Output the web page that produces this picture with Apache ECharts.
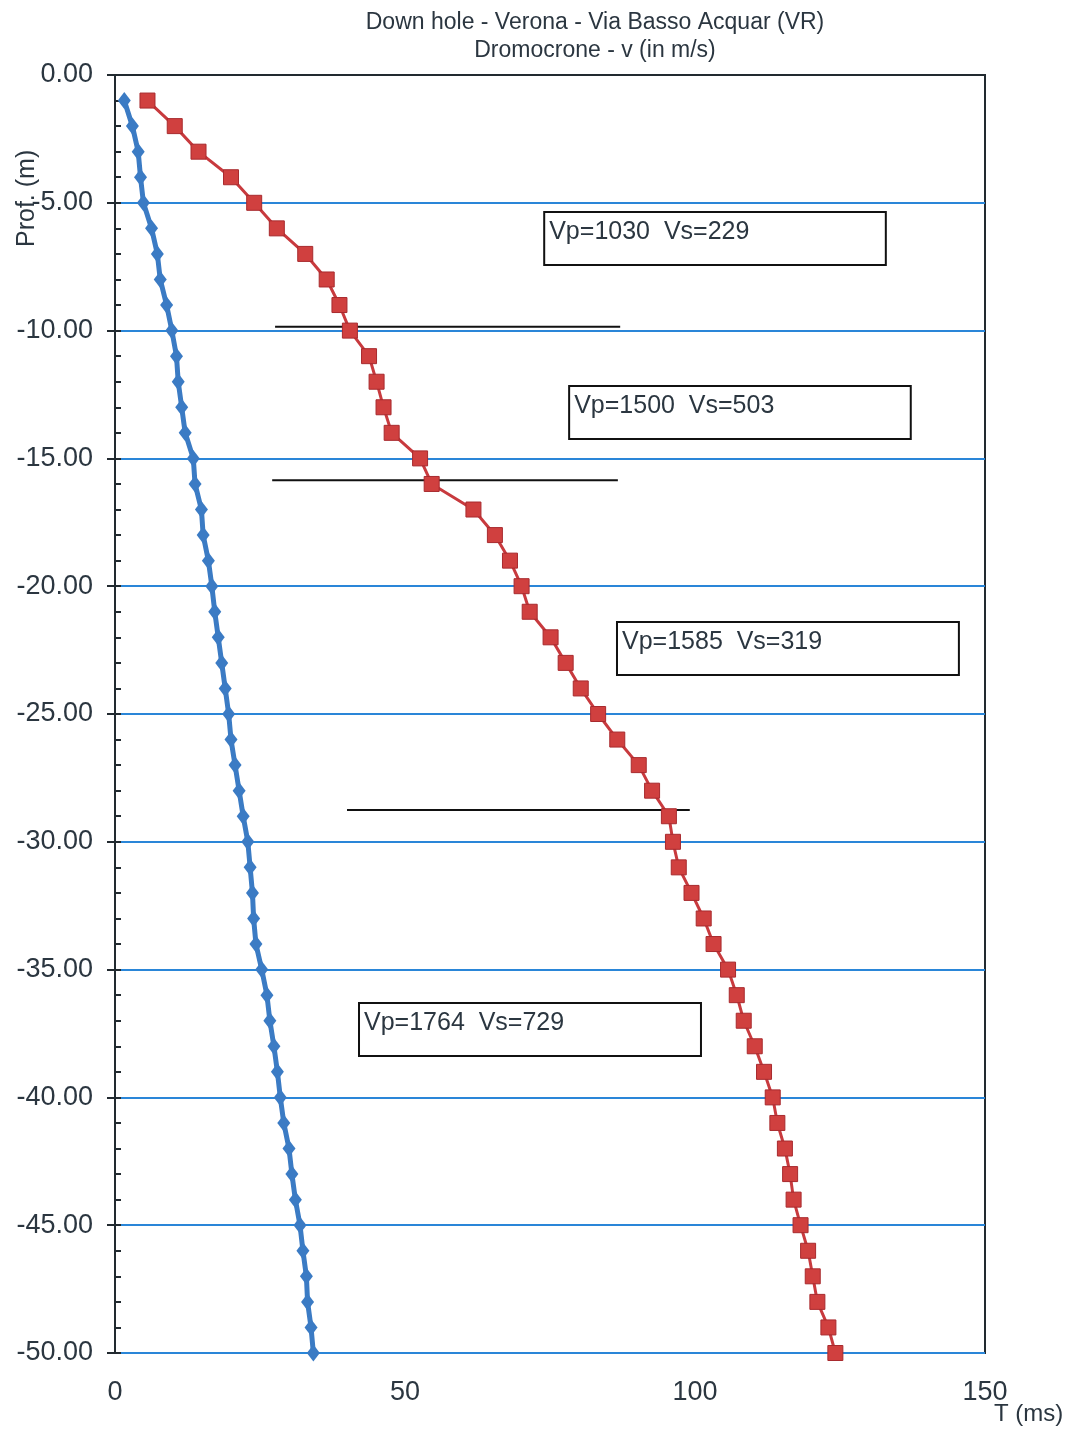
<!DOCTYPE html>
<html>
<head>
<meta charset="utf-8">
<title>Down hole - Verona - Via Basso Acquar (VR)</title>
<script src="https://cdn.jsdelivr.net/npm/echarts@6/dist/echarts.min.js"></script>
<style>
  html, body { margin: 0; padding: 0; background: #ffffff; }
  #chart { width: 1080px; height: 1433px; }
</style>
</head>
<body>
<div id="chart"></div>
<script>
// Depth below ground (m) of each receiver position
const depths = [1,2,3,4,5,6,7,8,9,10,11,12,13,14,15,16,17,18,19,20,21,22,23,24,25,
                26,27,28,29,30,31,32,33,34,35,36,37,38,39,40,41,42,43,44,45,46,47,48,49,50];

// First-arrival times of S waves (ms)
const timesS = [1.6,3.0,4.0,4.4,4.9,6.3,7.3,7.8,8.9,9.8,10.6,10.9,11.5,12.1,13.5,13.8,14.9,15.2,16.1,16.7,
                17.2,17.8,18.4,19.0,19.6,20.0,20.7,21.4,22.1,22.9,23.3,23.7,23.9,24.3,25.3,26.2,26.7,27.4,28.0,28.5,
                29.1,30.0,30.5,31.1,31.9,32.4,33.0,33.2,33.8,34.2];

// First-arrival times of P waves (ms)
const timesP = [5.6,10.3,14.4,20.0,24.0,27.9,32.8,36.5,38.7,40.5,43.8,45.1,46.3,47.7,52.6,54.6,61.8,65.5,68.1,70.1,
                71.5,75.1,77.7,80.3,83.3,86.6,90.3,92.6,95.5,96.2,97.2,99.4,101.5,103.2,105.7,107.2,108.4,110.3,111.9,113.4,
                114.2,115.5,116.4,117.0,118.2,119.5,120.3,121.1,123.0,124.2];

// Layer boundaries: depth (m) and time span (ms) of each marker line
const boundaryDepths = [-9.85, -15.85, -28.76];
const boundaryFrom   = [27.6, 27.1, 40.0];
const boundaryTo     = [87.1, 86.7, 99.1];

// Interval velocities (m/s) per layer and their label boxes [t0, t1, z0, z1]
const layerVp = [1030, 1500, 1585, 1764];
const layerVs = [229, 503, 319, 729];
const layerBoxes = [
  [74.0, 132.9, -5.36, -7.43],
  [78.3, 137.2, -12.17, -14.24],
  [86.55, 145.5, -21.4, -23.47],
  [42.07, 101.03, -36.31, -38.38]
];

// Axis ranges
const xTicks = [0, 50, 100, 150];
const yMin = -50, yMax = 0, yStep = 5;

const textColor = '#2b3640';
const axisColor = '#222a30';
const fontFam = 'Liberation Sans, Arial, sans-serif';

const sData = depths.map((d, i) => [timesS[i], -d]);
const pData = depths.map((d, i) => [timesP[i], -d]);

const boundarySeries = boundaryDepths.map((z, i) => ({
  type: 'line',
  name: 'boundary' + i,
  data: [[boundaryFrom[i], z], [boundaryTo[i], z]],
  symbol: 'none',
  lineStyle: { color: '#111111', width: 2 },
  z: 3,
  silent: true
}));

const boxData = layerBoxes.map((b, i) => [b[0], b[1], b[2], b[3], 'Vp=' + layerVp[i] + '  Vs=' + layerVs[i]]);

// Velocity label boxes, placed through the grid's own scales
function renderBox(params, api) {
  const p0 = api.coord([api.value(0), api.value(2)]);
  const p1 = api.coord([api.value(1), api.value(3)]);
  const label = boxData[params.dataIndex][4];
  return {
    type: 'group',
    children: [
      {
        type: 'rect',
        shape: { x: p0[0], y: p0[1], width: p1[0] - p0[0], height: p1[1] - p0[1] },
        style: { fill: '#ffffff', stroke: '#111111', lineWidth: 2 }
      },
      {
        type: 'text',
        x: p0[0] + 5,
        y: p0[1] + 8,
        style: {
          text: label,
          fontFamily: fontFam,
          fontSize: 25,
          fill: textColor,
          textVerticalAlign: 'top'
        }
      }
    ]
  };
}

const chart = echarts.init(document.getElementById('chart'), null, { renderer: 'canvas' });

chart.setOption({
  backgroundColor: '#ffffff',
  animation: false,
  title: {
    text: 'Down hole - Verona - Via Basso Acquar (VR)\nDromocrone - v (in m/s)',
    left: 590,
    top: 4,
    textAlign: 'center',
    textStyle: {
      fontFamily: fontFam,
      fontSize: 23,
      fontWeight: 'normal',
      color: textColor,
      lineHeight: 28
    }
  },
  grid: {
    left: 115,
    right: 95,
    top: 75,
    bottom: 80,
    show: true,
    borderColor: axisColor,
    borderWidth: 2,
    backgroundColor: '#ffffff'
  },
  xAxis: {
    type: 'value',
    min: xTicks[0],
    max: xTicks[xTicks.length - 1],
    interval: xTicks[1] - xTicks[0],
    axisLine: { show: true, lineStyle: { color: axisColor, width: 2 } },
    axisTick: { show: false },
    splitLine: { show: false },
    axisLabel: {
      margin: 26,
      fontFamily: fontFam,
      fontSize: 27,
      color: textColor
    }
  },
  yAxis: [
    {
      type: 'value',
      min: yMin,
      max: yMax,
      interval: yStep,
      axisLine: { show: true, onZero: false, lineStyle: { color: axisColor, width: 2 } },
      axisTick: { show: true, length: 8, lineStyle: { color: axisColor, width: 2 } },
      splitLine: { show: true, lineStyle: { color: '#2a86d8', width: 2 } },
      axisLabel: {
        margin: 22,
        fontFamily: fontFam,
        fontSize: 27,
        color: textColor,
        formatter: v => v.toFixed(2)
      }
    },
    {
      type: 'value',
      min: yMin,
      max: yMax,
      interval: yStep,
      position: 'left',
      axisLine: { show: false },
      axisTick: { show: true, inside: true, length: 6, lineStyle: { color: axisColor, width: 2 } },
      minorTick: { show: true, splitNumber: 5, length: 6, lineStyle: { color: axisColor, width: 2 } },
      splitLine: { show: false },
      axisLabel: { show: false }
    }
  ],
  graphic: [
    {
      type: 'text',
      rotation: Math.PI / 2,
      x: 15,
      y: 247,
      style: {
        text: 'Prof. (m)',
        fontFamily: fontFam,
        fontSize: 25,
        fill: textColor
      },
      z: 10
    },
    {
      type: 'text',
      left: 994,
      top: 1402,
      style: {
        text: 'T (ms)',
        fontFamily: fontFam,
        fontSize: 24,
        fill: textColor
      },
      z: 10
    }
  ],
  series: [
    {
      type: 'custom',
      name: 'layers',
      data: boxData.map(r => r.slice(0, 4)),
      renderItem: renderBox,
      encode: { x: [0, 1], y: [2, 3] },
      silent: true,
      z: 2
    },
    ...boundarySeries,
    {
      type: 'line',
      name: 'Vs',
      data: sData,
      symbol: 'diamond',
      symbolSize: [13, 17],
      lineStyle: { color: '#3b7bc4', width: 5 },
      itemStyle: { color: '#3b7bc4' },
      z: 5
    },
    {
      type: 'line',
      name: 'Vp',
      data: pData,
      symbol: 'rect',
      symbolSize: 15,
      lineStyle: { color: '#c83a3e', width: 3 },
      itemStyle: { color: '#d0403f', borderColor: '#a82a2e', borderWidth: 1 },
      z: 5
    }
  ]
});
</script>
</body>
</html>
